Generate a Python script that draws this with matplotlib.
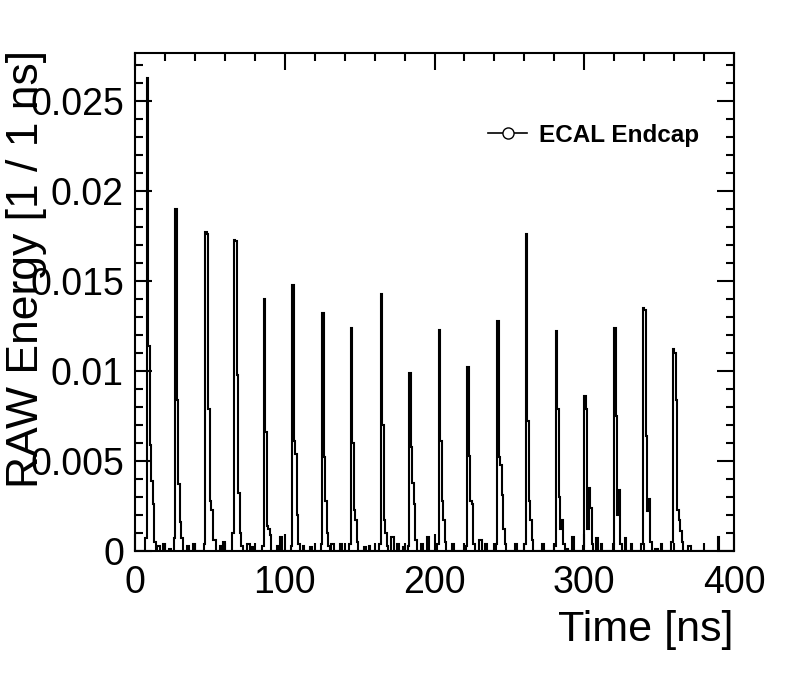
import numpy as np
import matplotlib
matplotlib.use("Agg")
import matplotlib.pyplot as plt
from matplotlib.lines import Line2D
from matplotlib.ticker import MultipleLocator

plt.rcParams['font.family'] = ['Liberation Sans', 'DejaVu Sans']

# === Data ===
n_bins = 400
bin_width = 1.0

# bin (ns) of the main spike of each pulse
pulse_bins = [8, 27, 47, 66, 86, 105, 125, 144, 164, 183,
              203, 222, 242, 261, 281, 300, 320, 339, 359]

# content of each pulse, starting one bin before the spike
pulse_shapes = [
    [0.0007, 0.0263, 0.0114, 0.0059, 0.0039, 0.0026, 0.0005],
    [0.0007, 0.0190, 0.0084, 0.0037, 0.0016, 0.0007],
    [0.0004, 0.0177, 0.0176, 0.0079, 0.0028, 0.0023, 0.0006],
    [0.0010, 0.0173, 0.0172, 0.0098, 0.0032, 0.0010, 0.0003],
    [0.0003, 0.0140, 0.0066, 0.0014, 0.0012, 0.0009],
    [0.0003, 0.0148, 0.0061, 0.0054, 0.0020, 0.0004],
    [0.0004, 0.0132, 0.0052, 0.0028, 0.0010, 0.0003],
    [0.0004, 0.0124, 0.0060, 0.0023, 0.0017, 0.0005],
    [0.0004, 0.0143, 0.0070, 0.0017, 0.0010, 0.0003],
    [0.0003, 0.0099, 0.0058, 0.0038, 0.0026, 0.0006],
    [0.0004, 0.0123, 0.0061, 0.0028, 0.0017, 0.0005],
    [0.0003, 0.0102, 0.0053, 0.0028, 0.0026, 0.0004],
    [0.0004, 0.0128, 0.0052, 0.0048, 0.0031, 0.0012, 0.0004],
    [0.0004, 0.0176, 0.0072, 0.0028, 0.0017, 0.0006],
    [0.0003, 0.0122, 0.0079, 0.0030, 0.0012, 0.0017, 0.0004],
    [0.0003, 0.0086, 0.0079, 0.0012, 0.0035, 0.0024, 0.0004],
    [0.0004, 0.0124, 0.0075, 0.0020, 0.0034, 0.0004],
    [0.0004, 0.0135, 0.0134, 0.0064, 0.0022, 0.0029, 0.0005],
    [0.0005, 0.0112, 0.0110, 0.0084, 0.0023, 0.0017, 0.0011, 0.0005],
]

# isolated small entries between the pulses
noise_bins = [15, 16, 19, 23, 35, 39, 53, 57, 59, 75, 76, 78, 95, 97, 112,
              117, 131, 132, 137, 153, 156, 171, 172, 175, 179, 191, 195,
              212, 230, 231, 234, 254, 272, 287, 288, 292, 308, 311, 327,
              331, 347, 348, 351, 369, 370, 389]
noise_vals = [0.0003, 0.0003, 0.0004, 0.0001, 0.0003, 0.0004, 0.0006, 0.0003,
              0.0005, 0.0004, 0.0004, 0.0002, 0.0003, 0.0008, 0.0003, 0.0002,
              0.0004, 0.0004, 0.0004, 0.0002, 0.0003, 0.0008, 0.0008, 0.0004,
              0.0002, 0.0004, 0.0008, 0.0004, 0.0006, 0.0006, 0.0004, 0.0004,
              0.0004, 0.0001, 0.0001, 0.0008, 0.0007, 0.0004, 0.0007, 0.0004,
              0.0001, 0.0001, 0.0004, 0.0003, 0.0003, 0.0008]

legend_label = "ECAL Endcap"

# === Build histogram ===
energy = np.zeros(n_bins)
for b, v in zip(noise_bins, noise_vals):
    energy[b] = v
for p, shape in zip(pulse_bins, pulse_shapes):
    energy[p - 1:p - 1 + len(shape)] = shape
edges = np.arange(n_bins + 1) * bin_width

# === Plot ===
W, H = 798, 674
fig = plt.figure(figsize=(W / 100, H / 100), dpi=100)
ax = fig.add_axes([135 / W, 1 - 551 / H, (734 - 135) / W, (551 - 53) / H])

ax.stairs(energy, edges, color='black', lw=1.5)

ax.set_xlim(0, 400)
ax.set_ylim(0, 0.02767)
ax.xaxis.set_major_locator(MultipleLocator(100))
ax.xaxis.set_minor_locator(MultipleLocator(20))
ax.yaxis.set_major_locator(MultipleLocator(0.005))
ax.yaxis.set_minor_locator(MultipleLocator(0.001))
ax.yaxis.set_major_formatter(plt.FuncFormatter(lambda v, _: "0" if v == 0 else f"{v:g}"))

ax.tick_params(which='both', direction='in', top=True, right=True, width=1.5,
               labelsize=27, colors='black')
ax.tick_params(which='major', length=12)
ax.tick_params(which='minor', length=6)
ax.tick_params(axis='x', pad=10)
ax.tick_params(axis='y', pad=8)
for s in ax.spines.values():
    s.set_linewidth(1.5)

fig.text(734 / W, 1 - 641 / H, "Time [ns]", ha='right', va='baseline', fontsize=31)
fig.text(6 / W, 1 - 50 / H, "RAW Energy [1 / 1 ns]", rotation=90,
         ha='left', va='top', fontsize=32)

# legend drawn by hand (ROOT style)
ly = 1 - 133 / H
fig.add_artist(Line2D([488 / W, 527 / W], [ly, ly], color='black', lw=1.2))
fig.add_artist(Line2D([508 / W], [ly], marker='o', markersize=8, mfc='white',
                      mec='black', mew=1.0, color='black'))
fig.text(539 / W, ly, legend_label, ha='left', va='center_baseline',
         fontsize=17.5, fontweight='bold')

fig.savefig("out.png", dpi=100)
